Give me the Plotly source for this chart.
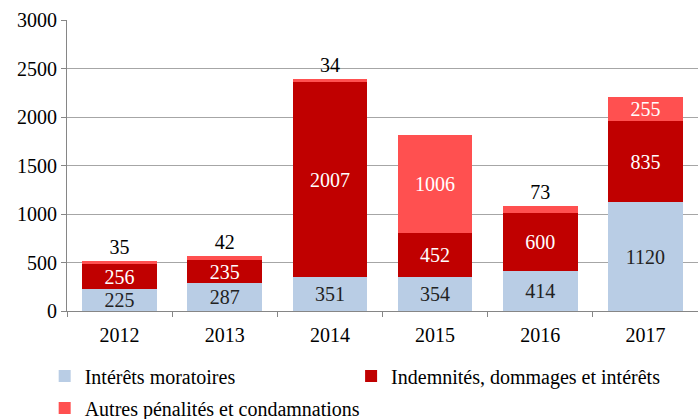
import plotly.graph_objects as go

years = ["2012", "2013", "2014", "2015", "2016", "2017"]
interets = [225, 287, 351, 354, 414, 1120]
indemnites = [256, 235, 2007, 452, 600, 835]
autres = [35, 42, 34, 1006, 73, 255]
y_ticks = [0, 500, 1000, 1500, 2000, 2500, 3000]

names = ["Intérêts moratoires", "Indemnités, dommages et intérêts", "Autres pénalités et condamnations"]
colors = ["#B9CDE5", "#C00000", "#FF5050"]

FONT = "'Liberation Serif', 'Times New Roman', Times, serif"

fig = go.Figure()
fig.add_bar(x=years, y=interets, name=names[0], marker_color=colors[0],
            text=[str(v) for v in interets], textposition="inside", insidetextanchor="middle",
            textfont=dict(color="#222222", size=20, family=FONT), legend="legend",
            showlegend=True)
fig.add_bar(x=years, y=indemnites, name=names[1], marker_color=colors[1],
            text=[str(v) for v in indemnites], textposition="inside", insidetextanchor="middle",
            textfont=dict(color="white", size=20, family=FONT), legend="legend2",
            showlegend=True)
pos3 = ["outside" if v < 100 else "inside" for v in autres]
col3 = ["black" if v < 100 else "white" for v in autres]
fig.add_bar(x=years, y=autres, name=names[2], marker_color=colors[2],
            text=[str(v) for v in autres], textposition=pos3, insidetextanchor="middle",
            textfont=dict(color=col3, size=20, family=FONT), legend="legend3",
            cliponaxis=False, showlegend=True)

fig.update_traces(marker_line_width=0, constraintext="none")

leg = dict(orientation="h", xref="container", yref="container", xanchor="left",
           yanchor="middle", font=dict(size=20, family=FONT), itemwidth=30,
           bgcolor="rgba(0,0,0,0)", visible=True)

fig.update_layout(
    showlegend=True,
    barmode="stack",
    bargap=0.29,
    width=698, height=419,
    margin=dict(l=67, r=0, t=20, b=108, autoexpand=False),
    plot_bgcolor="white", paper_bgcolor="white",
    font=dict(family=FONT, size=20, color="black"),
    yaxis=dict(range=[0, 3000], tickvals=y_ticks, showgrid=True, gridcolor="#A6A6A6",
               gridwidth=1, showline=True, linecolor="#868686", linewidth=1,
               ticks="outside", ticklen=5, tickcolor="#868686", zeroline=False,
               tickfont=dict(size=20, family=FONT)),
    xaxis=dict(showline=True, linecolor="#868686", linewidth=1, ticks="outside",
               tickson="boundaries", ticklen=5, tickcolor="#868686",
               ticklabelstandoff=6,
               tickfont=dict(size=20, family=FONT)),
    legend=dict(leg, x=0.064, y=1 - 376 / 419),
    legend2=dict(leg, x=0.503, y=1 - 376 / 419),
    legend3=dict(leg, x=0.064, y=1 - 408 / 419),
)

fig.write_html("out.html", config={"displayModeBar": False},
               post_script="document.body.style.margin='0px';")
